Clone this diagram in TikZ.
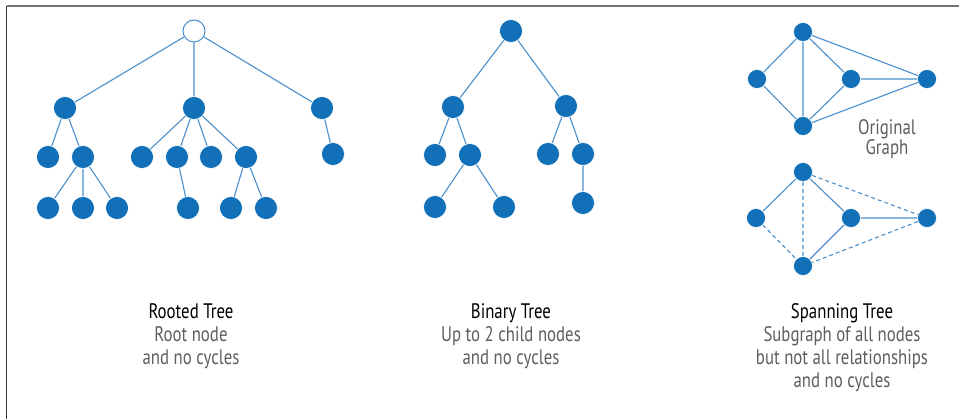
\documentclass[tikz,border=0pt]{standalone}
\usepackage{fontspec}
\setmainfont{PT Sans}[FakeStretch=0.8]
\definecolor{nodeblue}{HTML}{1170B8}
\definecolor{edgeblue}{HTML}{4A8FCB}
\definecolor{subgray}{HTML}{5E5E5E}
\begin{document}
\begin{tikzpicture}[x=1pt,y=-1pt,
  tn/.style={circle,fill=nodeblue,draw=white,line width=0.6pt,minimum size=23pt,inner sep=0pt},
  sn/.style={circle,fill=nodeblue,draw=white,line width=0.6pt,minimum size=19pt,inner sep=0pt},
  rootn/.style={circle,fill=white,draw=edgeblue,line width=1pt,minimum size=22pt,inner sep=0pt},
  edge/.style={draw=edgeblue,line width=1.1pt},
  dedge/.style={draw=edgeblue,line width=1.1pt,dash pattern=on 4pt off 3pt},
  title/.style={font=\fontsize{21}{23}\selectfont,text=black,align=center,anchor=north},
  sub/.style={font=\fontsize{21}{23}\selectfont,text=subgray,align=center,anchor=north}]
\useasboundingbox (0,0) rectangle (959,419);
\fill[white] (0,0) rectangle (959,419);
\draw[color=black!55,line width=1.5pt] (6.5,6) -- (959,6);
\draw[color=black!80,line width=1.5pt] (6.5,6) -- (6.5,419);

% Rooted tree
\node[rootn] (r) at (194,31) {};
\node[tn] (a) at (65,108) {};
\node[tn] (b) at (194,108) {};
\node[tn] (c) at (322,108) {};
\node[tn] (a1) at (48,157) {};
\node[tn] (a2) at (83,157) {};
\node[tn] (b1) at (142,157) {};
\node[tn] (b2) at (177,157) {};
\node[tn] (b3) at (211,157) {};
\node[tn] (b4) at (246,157) {};
\node[tn] (c1) at (333,154) {};
\node[tn] (a21) at (48,208) {};
\node[tn] (a22) at (83,208) {};
\node[tn] (a23) at (117,208) {};
\node[tn] (b21) at (188,208) {};
\node[tn] (b41) at (231,208) {};
\node[tn] (b42) at (266,208) {};
\path[edge] (r)--(a) (r)--(b) (r)--(c) (a)--(a1) (a)--(a2) (a2)--(a21) (a2)--(a22) (a2)--(a23)
  (b)--(b1) (b)--(b2) (b)--(b3) (b)--(b4) (b2)--(b21) (b4)--(b41) (b4)--(b42) (c)--(c1);

% Binary tree
\node[tn] (R) at (511,31) {};
\node[tn] (L) at (453,107) {};
\node[tn] (M) at (566,106) {};
\node[tn] (L1) at (435,155) {};
\node[tn] (L2) at (470,155) {};
\node[tn] (M1) at (548,154) {};
\node[tn] (M2) at (583,154) {};
\node[tn] (L21) at (435,207) {};
\node[tn] (L22) at (504,207) {};
\node[tn] (M21) at (583,203) {};
\path[edge] (R)--(L) (R)--(M) (L)--(L1) (L)--(L2) (L2)--(L21) (L2)--(L22) (M)--(M1) (M)--(M2) (M2)--(M21);

% Spanning: original graph
\node[sn] (gt) at (803,32) {};
\node[sn] (gl) at (757,79) {};
\node[sn] (gm) at (851,79) {};
\node[sn] (gr) at (927,79) {};
\node[sn] (gb) at (803,126) {};
\path[edge] (gt)--(gl) (gt)--(gb) (gt)--(gm) (gt)--(gr) (gl)--(gb) (gm)--(gb) (gm)--(gr) (gr)--(gb);
\node[sub,anchor=center,font=\fontsize{21}{20}\selectfont] (og) at (887,139) {Original\\Graph};

% Spanning tree
\node[sn] (st) at (803,172) {};
\node[sn] (sl) at (756,218) {};
\node[sn] (sm) at (851,218) {};
\node[sn] (sr) at (927,218) {};
\node[sn] (sb) at (803,266) {};
\path[edge] (st)--(sl) (st)--(sm) (sm)--(sb) (sm)--(sr);
\path[dedge] (st)--(sb) (st)--(sr) (sl)--(sb) (sr)--(sb);

% Captions
\node[title] (t1) at (191,300) {Rooted Tree};
\node[sub] (s1) at (191,323) {Root node\\and no cycles};
\node[title] (t2) at (511,300) {Binary Tree};
\node[sub] (s2) at (511,323) {Up to 2 child nodes\\and no cycles};
\node[title] (t3) at (842,300) {Spanning Tree};
\node[sub] (s3) at (842,323) {Subgraph of all nodes\\but not all relationships\\and no cycles};
\end{tikzpicture}
\end{document}
